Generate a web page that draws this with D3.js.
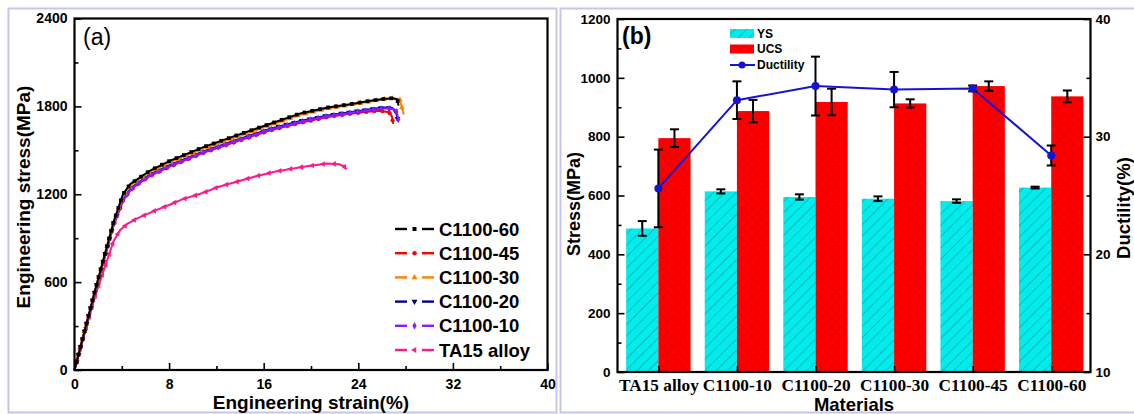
<!DOCTYPE html>
<html>
<head>
<meta charset="utf-8">
<script src="https://cdn.jsdelivr.net/npm/d3@7"></script>
<style>
    body { margin: 0; background: #fff; }
    svg { display: block; font-family: "Liberation Sans", Arial, sans-serif; }
</style>
</head>
<body>
<svg id="chart" width="1134" height="414"></svg>
<script>
// ---- (a) engineering stress-strain curves: [strain %, stress MPa] ----
const curveC1100_60 = [[0, 0], [1.75, 546], [3.3, 1010], [4.1, 1200], [4.7, 1268], [5.3, 1302], [6.4, 1362], [8.1, 1430], [10.9, 1522], [13.7, 1602], [16.5, 1680], [19.1, 1752], [21.4, 1792], [23.3, 1815], [25.0, 1838], [26.1, 1850], [26.9, 1856], [27.3, 1848], [27.4, 1805]];
const curveC1100_45 = [[0, 0], [1.75, 536], [3.3, 985], [4.1, 1155], [4.7, 1225], [5.3, 1265], [6.4, 1325], [8.1, 1390], [10.9, 1483], [13.7, 1560], [16.5, 1635], [19.1, 1688], [21.4, 1727], [23.3, 1750], [25.0, 1765], [25.8, 1770], [26.6, 1760], [26.85, 1730], [26.95, 1680]];
const curveC1100_30 = [[0, 0], [1.75, 544], [3.3, 1005], [4.1, 1190], [4.7, 1260], [5.3, 1296], [6.4, 1354], [8.1, 1420], [10.9, 1512], [13.7, 1592], [16.5, 1670], [19.1, 1742], [21.4, 1785], [23.3, 1810], [25.0, 1833], [26.1, 1848], [27.0, 1855], [27.5, 1848], [27.85, 1745]];
const curveC1100_20 = [[0, 0], [1.75, 540], [3.3, 995], [4.1, 1165], [4.7, 1235], [5.3, 1275], [6.4, 1335], [8.1, 1400], [10.9, 1492], [13.7, 1570], [16.5, 1645], [19.1, 1700], [21.4, 1738], [23.3, 1760], [25.0, 1780], [26.2, 1792], [26.9, 1788], [27.2, 1760], [27.35, 1700]];
const curveC1100_10 = [[0, 0], [1.75, 538], [3.3, 990], [4.1, 1160], [4.7, 1230], [5.3, 1270], [6.4, 1330], [8.1, 1395], [10.9, 1488], [13.7, 1565], [16.5, 1640], [19.1, 1694], [21.4, 1733], [23.3, 1755], [25.0, 1775], [26.4, 1787], [27.0, 1780], [27.25, 1760], [27.4, 1705]];
const curveTA15 = [[0, 0], [1.73, 500], [3.3, 880], [3.85, 955], [4.5, 1000], [5.3, 1035], [6.7, 1085], [8.1, 1130], [9.1, 1165], [10.9, 1210], [12.15, 1250], [13.7, 1285], [15.2, 1320], [17.0, 1355], [19.5, 1390], [21.4, 1410], [22.4, 1405], [22.8, 1390], [23.0, 1370]];

const legendNamesA = ['C1100-60', 'C1100-45', 'C1100-30', 'C1100-20', 'C1100-10', 'TA15 alloy'];
const strainTicks = [0, 8, 16, 24, 32, 40];
const stressTicksA = [0, 600, 1200, 1800, 2400];

// ---- (b) strength and ductility per material ----
const materials = ['TA15 alloy', 'C1100-10', 'C1100-20', 'C1100-30', 'C1100-45', 'C1100-60'];
const ysValues = [488, 614, 595, 589, 581, 627];
const ysErrors = [25, 7, 9, 8, 6, 3];
const ucsValues = [795, 887, 918, 913, 972, 937];
const ucsErrors = [30, 38, 45, 14, 16, 20];
const ductilityValues = [25.6, 33.1, 34.3, 34.0, 34.1, 28.4];
const ductilityErrors = [3.3, 1.6, 2.5, 1.5, 0.25, 0.85];
const stressTicksB = [0, 200, 400, 600, 800, 1000, 1200];
const ductilityTicks = [10, 20, 30, 40];

const svg = d3.select('#chart');
const fmt = d3.format('d');

// panel borders (light lavender frames of the figure)
svg.append('rect').attr('x', 8.5).attr('y', 8.5).attr('width', 548).attr('height', 404)
    .attr('fill', 'none').attr('stroke', '#c6c6ea').attr('stroke-width', 2);
svg.append('rect').attr('x', 560.5).attr('y', 8.5).attr('width', 590).attr('height', 404)
    .attr('fill', 'none').attr('stroke', '#c6c6ea').attr('stroke-width', 2);

function styleAxis(g, fontSize, family) {
    g.select('.domain').remove();
    g.selectAll('.tick line').attr('stroke', '#000').attr('stroke-width', 1.6);
    g.selectAll('.tick text')
        .attr('fill', '#000')
        .style('font-size', fontSize + 'px')
        .style('font-weight', 'bold')
        .style('font-family', family || '"Liberation Sans", Arial, sans-serif');
}

// =================== panel (a) ===================
const A = { x0: 74.5, x1: 547.5, y0: 18.5, y1: 370 };
const xA = d3.scaleLinear().domain([0, 40]).range([A.x0, A.x1]);
const yA = d3.scaleLinear().domain([0, 2400]).range([A.y1, A.y0]);
const gA = svg.append('g');

// minor ticks
gA.append('g').attr('transform', `translate(0,${A.y1})`)
    .call(d3.axisBottom(xA).tickValues([4, 12, 20, 28, 36]).tickSize(-4).tickFormat(''))
    .call(g => styleAxis(g, 14));
gA.append('g').attr('transform', `translate(${A.x0},0)`)
    .call(d3.axisLeft(yA).tickValues([300, 900, 1500, 2100]).tickSize(-4).tickFormat(''))
    .call(g => styleAxis(g, 14));
// major ticks
gA.append('g').attr('transform', `translate(0,${A.y1})`)
    .call(d3.axisBottom(xA).tickValues(strainTicks).tickSize(-7).tickPadding(9).tickFormat(fmt))
    .call(g => styleAxis(g, 14));
gA.append('g').attr('transform', `translate(${A.x0},0)`)
    .call(d3.axisLeft(yA).tickValues(stressTicksA).tickSize(-7).tickPadding(7).tickFormat(fmt))
    .call(g => styleAxis(g, 14));

const seriesA = [
    { name: 'TA15 alloy', data: curveTA15, color: '#ff1a8c', sym: d3.symbolTriangle, rot: -90, step: 11 },
    { name: 'C1100-45', data: curveC1100_45, color: '#ff0000', sym: d3.symbolCircle, rot: 0, step: 8 },
    { name: 'C1100-20', data: curveC1100_20, color: '#000090', sym: d3.symbolTriangle, rot: 180, step: 8 },
    { name: 'C1100-10', data: curveC1100_10, color: '#8a1aff', sym: d3.symbolDiamond, rot: 0, step: 8 },
    { name: 'C1100-30', data: curveC1100_30, color: '#ff8000', sym: d3.symbolTriangle, rot: 0, step: 8 },
    { name: 'C1100-60', data: curveC1100_60, color: '#000000', sym: d3.symbolSquare, rot: 0, step: 8 }
];

const lineA = d3.line().x(d => xA(d[0])).y(d => yA(d[1]));

seriesA.forEach(s => {
    const path = gA.append('path')
        .datum(s.data)
        .attr('d', lineA)
        .attr('fill', 'none')
        .attr('stroke', s.color)
        .attr('stroke-width', 2);
    // markers spaced along the drawn curve
    const node = path.node();
    const len = node.getTotalLength();
    const pts = d3.range(s.step, len, s.step).map(l => node.getPointAtLength(l));
    gA.selectAll(null).data(pts).enter().append('path')
        .attr('d', d3.symbol().type(s.sym).size(14))
        .attr('transform', p => `translate(${p.x},${p.y}) rotate(${s.rot})`)
        .attr('fill', s.color);
});

gA.append('rect').attr('x', A.x0).attr('y', A.y0).attr('width', A.x1 - A.x0).attr('height', A.y1 - A.y0)
    .attr('fill', 'none').attr('stroke', '#000').attr('stroke-width', 2.2);

// legend (a)
const legA = gA.append('g').attr('transform', 'translate(395,229)');
legendNamesA.forEach((name, i) => {
    const s = seriesA.find(d => d.name === name);
    const row = legA.append('g').attr('transform', `translate(0,${i * 24.2})`);
    row.append('line').attr('x1', 0).attr('x2', 12).attr('stroke', s.color).attr('stroke-width', 2.4);
    row.append('line').attr('x1', 27).attr('x2', 39).attr('stroke', s.color).attr('stroke-width', 2.4);
    row.append('path').attr('d', d3.symbol().type(s.sym).size(16))
        .attr('transform', `translate(19.5,0) rotate(${s.rot})`).attr('fill', s.color);
    row.append('text').attr('x', 44).attr('dy', '0.36em').text(name)
        .style('font-size', '18.5px').style('font-weight', 'bold');
});

gA.append('text').attr('x', 83).attr('y', 45).text('(a)').style('font-size', '23px');
gA.append('text').attr('x', 311).attr('y', 409).attr('text-anchor', 'middle')
    .text('Engineering strain(%)').style('font-size', '19px').style('font-weight', 'bold');
gA.append('text').attr('transform', 'translate(30,197) rotate(-90)').attr('text-anchor', 'middle')
    .text('Engineering stress(MPa)').style('font-size', '19px').style('font-weight', 'bold');

// =================== panel (b) ===================
const B = { x0: 617.5, x1: 1090.5, y0: 19, y1: 372 };
const xB = d3.scaleLinear().domain([0.48, 6.5]).range([B.x0, B.x1]);
const yB = d3.scaleLinear().domain([0, 1200]).range([B.y1, B.y0]);
const yD = d3.scaleLinear().domain([10, 40]).range([B.y1, B.y0]);
const barW = 0.41;
const gB = svg.append('g');

const defs = svg.append('defs');
const pYS = defs.append('pattern').attr('id', 'hatchYS').attr('patternUnits', 'userSpaceOnUse')
    .attr('width', 8).attr('height', 8).attr('patternTransform', 'rotate(45)');
pYS.append('rect').attr('width', 8).attr('height', 8).attr('fill', '#00eded');
pYS.append('line').attr('x1', 0).attr('y1', 0).attr('x2', 0).attr('y2', 8)
    .attr('stroke', '#2f8f8f').attr('stroke-width', 1.2);
const pUCS = defs.append('pattern').attr('id', 'hatchUCS').attr('patternUnits', 'userSpaceOnUse')
    .attr('width', 7).attr('height', 7).attr('patternTransform', 'rotate(45)');
pUCS.append('rect').attr('width', 7).attr('height', 7).attr('fill', '#ff0000');
pUCS.append('line').attr('x1', 0).attr('y1', 0).attr('x2', 0).attr('y2', 7)
    .attr('stroke', '#d40000').attr('stroke-width', 0.9);
pUCS.append('line').attr('x1', 0).attr('y1', 0).attr('x2', 7).attr('y2', 0)
    .attr('stroke', '#d40000').attr('stroke-width', 0.9);

const idx = materials.map((m, i) => i + 1);

// bars
gB.selectAll('.ys').data(idx).enter().append('rect')
    .attr('x', i => xB(i - barW)).attr('width', i => xB(i) - xB(i - barW))
    .attr('y', i => yB(ysValues[i - 1])).attr('height', i => yB(0) - yB(ysValues[i - 1]))
    .attr('fill', 'url(#hatchYS)');
gB.selectAll('.ucs').data(idx).enter().append('rect')
    .attr('x', i => xB(i)).attr('width', i => xB(i + barW) - xB(i))
    .attr('y', i => yB(ucsValues[i - 1])).attr('height', i => yB(0) - yB(ucsValues[i - 1]))
    .attr('fill', 'url(#hatchUCS)');

function errorBar(g, x, yTop, yBot) {
    g.append('line').attr('x1', x).attr('x2', x).attr('y1', yTop).attr('y2', yBot)
        .attr('stroke', '#000').attr('stroke-width', 2);
    [yTop, yBot].forEach(y => g.append('line').attr('x1', x - 4.5).attr('x2', x + 4.5)
        .attr('y1', y).attr('y2', y).attr('stroke', '#000').attr('stroke-width', 2));
}

idx.forEach(i => {
    const k = i - 1;
    errorBar(gB, xB(i - barW / 2), yB(ysValues[k] + ysErrors[k]), yB(ysValues[k] - ysErrors[k]));
    errorBar(gB, xB(i + barW / 2), yB(ucsValues[k] + ucsErrors[k]), yB(ucsValues[k] - ucsErrors[k]));
});

// ductility line
gB.append('path').datum(idx)
    .attr('d', d3.line().x(i => xB(i)).y(i => yD(ductilityValues[i - 1])))
    .attr('fill', 'none').attr('stroke', '#1414d2').attr('stroke-width', 2);
idx.forEach(i => {
    const k = i - 1;
    errorBar(gB, xB(i), yD(ductilityValues[k] + ductilityErrors[k]), yD(ductilityValues[k] - ductilityErrors[k]));
});
gB.selectAll('.dpt').data(idx).enter().append('circle')
    .attr('cx', i => xB(i)).attr('cy', i => yD(ductilityValues[i - 1])).attr('r', 4)
    .attr('fill', '#1414d2');

// axes (b)
gB.append('g').attr('transform', `translate(${B.x0},0)`)
    .call(d3.axisLeft(yB).tickValues([100, 300, 500, 700, 900, 1100]).tickSize(-4).tickFormat(''))
    .call(g => styleAxis(g, 13));
gB.append('g').attr('transform', `translate(${B.x0},0)`)
    .call(d3.axisLeft(yB).tickValues(stressTicksB).tickSize(-7).tickPadding(7).tickFormat(fmt))
    .call(g => styleAxis(g, 13.5));
gB.append('g').attr('transform', `translate(${B.x1},0)`)
    .call(d3.axisRight(yD).tickValues([15, 25, 35]).tickSize(-4).tickFormat(''))
    .call(g => styleAxis(g, 13));
gB.append('g').attr('transform', `translate(${B.x1},0)`)
    .call(d3.axisRight(yD).tickValues(ductilityTicks).tickSize(-7).tickPadding(5).tickFormat(fmt))
    .call(g => styleAxis(g, 13.5));
gB.append('g').attr('transform', `translate(0,${B.y1})`)
    .call(d3.axisBottom(xB).tickValues(idx).tickSize(-6).tickPadding(7).tickFormat(i => materials[i - 1]))
    .call(g => styleAxis(g, 17.3, '"Liberation Serif", "Times New Roman", serif'));

gB.append('rect').attr('x', B.x0).attr('y', B.y0).attr('width', B.x1 - B.x0).attr('height', B.y1 - B.y0)
    .attr('fill', 'none').attr('stroke', '#000').attr('stroke-width', 2.2);

// legend (b)
const legB = gB.append('g').attr('transform', 'translate(730,0)');
legB.append('rect').attr('x', 0).attr('y', 29).attr('width', 24).attr('height', 9).attr('fill', 'url(#hatchYS)');
legB.append('rect').attr('x', 0).attr('y', 44.5).attr('width', 24).attr('height', 9).attr('fill', 'url(#hatchUCS)');
legB.append('line').attr('x1', 0).attr('x2', 25).attr('y1', 65).attr('y2', 65)
    .attr('stroke', '#1414d2').attr('stroke-width', 2);
legB.append('circle').attr('cx', 12).attr('cy', 65).attr('r', 3.5).attr('fill', '#1414d2');
[['YS', 33.5], ['UCS', 49], ['Ductility', 65]].forEach(([t, y]) => {
    legB.append('text').attr('x', 27).attr('y', y).attr('dy', '0.36em').text(t)
        .style('font-size', '12px').style('font-weight', 'bold');
});

gB.append('text').attr('x', 622).attr('y', 44).text('(b)').style('font-size', '23px').style('font-weight', 'bold');
gB.append('text').attr('x', 854).attr('y', 411).attr('text-anchor', 'middle')
    .text('Materials').style('font-size', '18.5px').style('font-weight', 'bold');
gB.append('text').attr('transform', 'translate(580,204) rotate(-90)').attr('text-anchor', 'middle')
    .text('Stress(MPa)').style('font-size', '18px').style('font-weight', 'bold');
gB.append('text').attr('transform', 'translate(1130,208) rotate(-90)').attr('text-anchor', 'middle')
    .text('Ductility(%)').style('font-size', '18.5px').style('font-weight', 'bold');
</script>
</body>
</html>
